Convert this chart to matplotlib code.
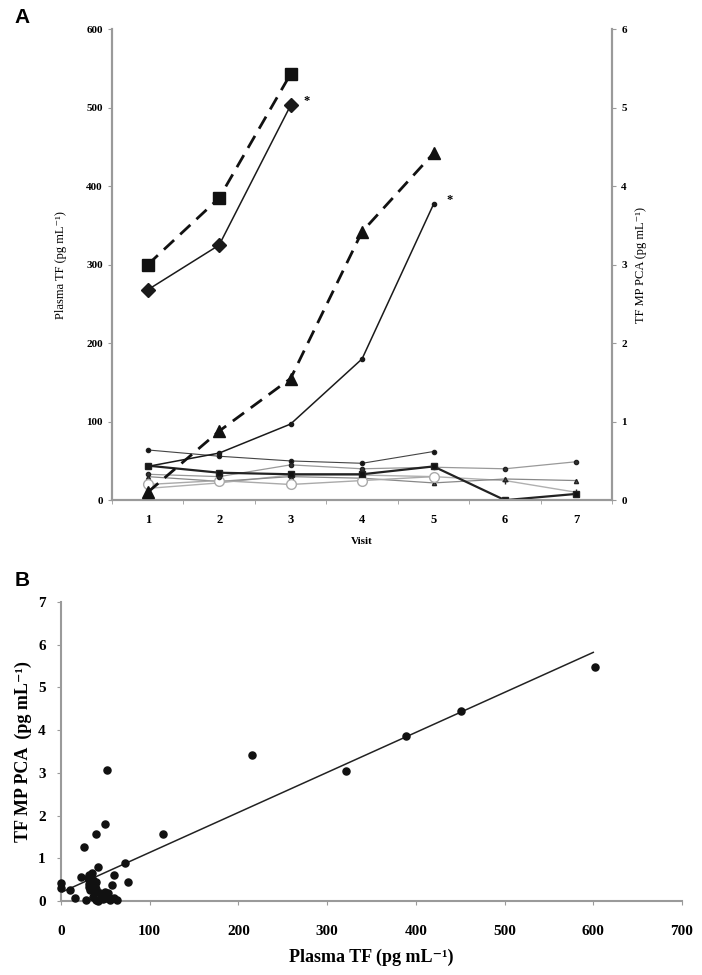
import numpy as np
import matplotlib
matplotlib.use("Agg")
import matplotlib.pyplot as plt

serif = ['Liberation Serif', 'DejaVu Serif']
plt.rcParams['font.family'] = serif

# ---- panel A data: visits and per-patient curves ----
visits = [1, 2, 3, 4, 5, 6, 7]

# plasma TF (left axis, pg/mL)
tf_diamond = [268, 325, 503]
tf_dot = [43, 60, 97, 180, 377]
# TF MP PCA (right axis, pg/mL)
pca_square = [3.00, 3.85, 5.43]
pca_triangle = [0.10, 0.88, 1.55, 3.42, 4.42]

# low-level patients (left axis)
low_a = [64, 56, 50, 47, 62]
low_b = [44, 35, 33, 33, 43, 0, 8]
low_c = [33, 30, 45, 40, 42, 40, 49]
low_d = [20, 25, 20, 25, 30]
low_e = [30, 24, 30, 28, 22, 27, 25]
low_f = [15, 22, 32, 32, 30, 25, 10]

star_visits = [3, 5]
star_values = [503, 377]

# ---- panel B data: scatter of plasma TF vs TF MP PCA ----
plasma_tf = [215, 52, 50, 40, 115, 26, 321, 389, 451, 602,
             72, 75, 42, 60, 0, 0, 10, 16, 23, 28, 40, 51, 63, 57, 53, 44, 31,
             30, 32, 33, 35, 36, 34, 38, 37, 36, 33, 40, 31, 35, 39, 45, 47, 50, 55, 60, 42]
mp_pca = [3.42, 3.07, 1.80, 1.57, 1.57, 1.27, 3.04, 3.87, 4.45, 5.47,
          0.88, 0.45, 0.80, 0.61, 0.42, 0.30, 0.26, 0.07, 0.57, 0.02, 0.02, 0.06, 0.02, 0.37, 0.18, 0.18, 0.33,
          0.55, 0.60, 0.45, 0.40, 0.50, 0.30, 0.35, 0.20, 0.10, 0.25, 0.45, 0.40, 0.65, 0.28, 0.10, 0.05, 0.22, 0.03, 0.07, 0.00]
fit_x = [0, 600]
fit_y = [0.20, 5.82]

spine_col = '#9a9a9a'
unit = ' (pg mL\u207b\u00b9)'

fig = plt.figure(figsize=(7.02, 9.75), dpi=100)

# ================= panel A =================
ax = fig.add_axes([0.1595, 0.487, 0.7125, 0.483])
ax2 = ax.twinx()

for ys, col, lw, mk, ms, mfc in [
        (low_f, '#b0b0b0', 1.0, '+', 5, '#b0b0b0'),
        (low_e, '#888888', 0.9, '^', 3, '#555555'),
        (low_d, '#aaaaaa', 1.0, 'o', 7, 'white'),
        (low_c, '#999999', 0.9, 'o', 3, '#333333'),
        (low_a, '#444444', 0.8, 'o', 3, '#111111'),
        (low_b, '#222222', 1.6, 's', 4, '#111111')]:
    ax.plot(visits[:len(ys)], ys, color=col, lw=lw, marker=mk, ms=ms,
            mfc=mfc, mec=col if mfc == 'white' else '#222222', zorder=2)

ax.plot(visits[:3], tf_diamond, color='#1a1a1a', lw=1.1, marker='D', ms=7, zorder=4)
ax.plot(visits[:5], tf_dot, color='#1a1a1a', lw=1.1, marker='o', ms=3, zorder=4)
ax2.plot(visits[:3], pca_square, color='#111111', lw=2.0, ls=(0, (5, 3)),
         marker='s', ms=9, zorder=4)
ax2.plot(visits[:5], pca_triangle, color='#111111', lw=2.0, ls=(0, (5, 3)),
         marker='^', ms=8, zorder=4)

for xv, yv in zip(star_visits, star_values):
    ax.text(xv + 0.22, yv + 6, '*', fontsize=9, fontweight='bold',
            ha='center', va='center')

ax.set_xlim(0.5, 7.5)
ax.set_ylim(0, 600)
ax2.set_ylim(0, 6)
ax.set_yticks(range(0, 601, 100))
ax2.set_yticks(range(0, 7))
ax.set_xticks(visits)
ax.set_xticks(np.arange(0.5, 7.6, 1), minor=True)
ax.tick_params(axis='x', which='major', length=0, pad=10)
ax.tick_params(axis='x', which='minor', length=3, color=spine_col, direction='out')
ax.tick_params(axis='y', length=3, color=spine_col, labelsize=8)
ax2.tick_params(axis='y', length=3, color=spine_col, labelsize=8)
ax.tick_params(axis='x', labelsize=9)
for a in (ax, ax2):
    for lab in a.get_xticklabels() + a.get_yticklabels():
        lab.set_fontweight('bold')
    a.spines['top'].set_visible(False)
    for s in ('left', 'right', 'bottom'):
        a.spines[s].set_color(spine_col)
        a.spines[s].set_linewidth(1.5)
ax.set_xlabel('Visit', fontsize=8, fontweight='bold', labelpad=8)
ax.set_ylabel('Plasma TF' + unit, fontsize=9, labelpad=14)
ax2.set_ylabel('TF MP PCA' + unit, fontsize=9, labelpad=6)

fig.text(0.021, 0.982, 'A', fontsize=15, fontweight='bold',
         family=['Liberation Sans', 'DejaVu Sans'], va='center')

# ================= panel B =================
bx = fig.add_axes([0.0869, 0.0759, 0.8846, 0.3067])
bx.scatter(plasma_tf, mp_pca, s=26, color='#111111', zorder=3, clip_on=False)
bx.plot(fit_x, fit_y, color='#222222', lw=1.1, zorder=2)
bx.set_xlim(0, 700)
bx.set_ylim(0, 7)
bx.set_xticks(range(0, 701, 100))
bx.set_yticks(range(0, 8))
bx.tick_params(length=3, color=spine_col, labelsize=11)
bx.tick_params(axis='x', pad=14)
bx.tick_params(axis='y', pad=8)
for lab in bx.get_xticklabels() + bx.get_yticklabels():
    lab.set_fontweight('bold')
for s in ('top', 'right'):
    bx.spines[s].set_visible(False)
for s in ('left', 'bottom'):
    bx.spines[s].set_color(spine_col)
    bx.spines[s].set_linewidth(1.5)
bx.set_xlabel('Plasma TF' + unit, fontsize=13, fontweight='bold', labelpad=8)
bx.set_ylabel('TF MP PCA ' + unit, fontsize=13, fontweight='bold', labelpad=4)

fig.text(0.021, 0.405, 'B', fontsize=15, fontweight='bold',
         family=['Liberation Sans', 'DejaVu Sans'], va='center')

fig.savefig('out.png', dpi=100)
